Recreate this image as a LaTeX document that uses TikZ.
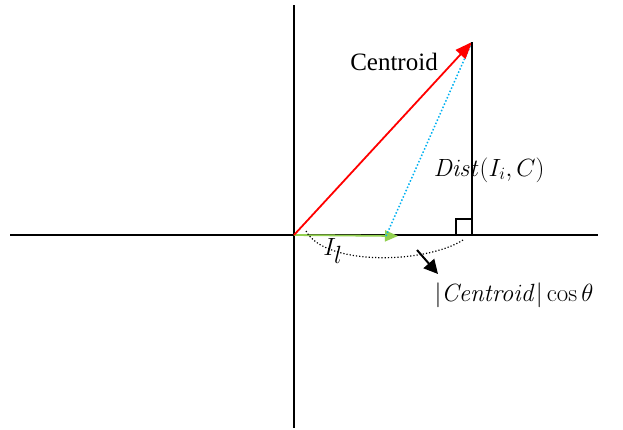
\documentclass[tikz,border=0pt]{standalone}
\usepackage[no-math]{fontspec}
\setmainfont{Liberation Serif}
\usepackage{tikz}
\usetikzlibrary{arrows.meta, positioning, calc}
\definecolor{vecred}{RGB}{255, 0, 0}
\definecolor{projgreen}{RGB}{146, 208, 80}
\definecolor{distblue}{RGB}{0, 176, 240}

\begin{document}
\begin{tikzpicture}[
    x=1pt, y=-1pt,
    axis/.style={line width=1.2pt, black},
    vecarrow/.style={-{Triangle[length=17pt, width=13pt]}, line width=1.8pt, color=vecred},
    projarrow/.style={-{Triangle[length=13pt, width=11pt]}, line width=1.8pt, color=projgreen},
    distline/.style={dotted, line width=1.5pt, color=distblue},
    arcline/.style={dotted, line width=1.2pt, black},
    pointer/.style={-{Triangle[length=14pt, width=14pt]}, line width=2pt, black},
    lbl/.style={inner sep=0pt, anchor=center}
]
\useasboundingbox (0,0) rectangle (623,429);

% Points
\coordinate (O) at (294,235);
\coordinate (C) at (472,42);
\coordinate (F) at (472,235);
\coordinate (P) at (398,236);
\coordinate (Q) at (386,236);
\coordinate (xl) at (10,235);
\coordinate (xr) at (598,235);
\coordinate (yt) at (294,5);
\coordinate (yb) at (294,428);
\coordinate (arcs) at (306,231);
\coordinate (arce) at (463,240);
\coordinate (ptrs) at (417,250);
\coordinate (ptre) at (438,274);

% Axes
\draw[axis] (xl) -- (xr);
\draw[axis] (yt) -- (yb);

% Vectors
\draw[projarrow] (O) -- (P);
\draw[distline] (Q) -- (C);
\draw[vecarrow] (O) -- (C);
\draw[axis] (C) -- (F);
\draw[line width=1.1pt] ($(F)+(-16,0)$) -- ++(0,-16) -- ++(16,0);

% Projection arc
\draw[arcline] (arcs) .. controls (325,266) and (425,264) .. (arce);
\draw[pointer] (ptrs) -- (ptre);

% Labels
\node[lbl, font=\fontsize{25}{30}\selectfont] (cen) at (394,62) {Centroid};
\node[lbl, font=\fontsize{26}{31}\selectfont] (dist) at (489,170) {$\mathit{Dist}(I_i,C)$};
\node[lbl, font=\fontsize{36}{42}\selectfont] (il) at (333,251) {$I_l$};
\node[lbl, font=\fontsize{29}{34}\selectfont] (proj) at (514,295) {$|\mathit{Centroid}|\cos\theta$};

\end{tikzpicture}
\end{document}
